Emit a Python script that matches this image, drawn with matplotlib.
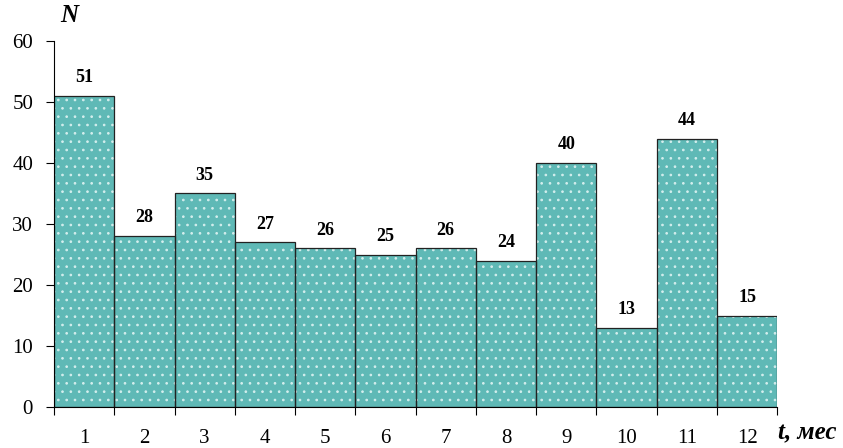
import matplotlib
matplotlib.use('Agg')
import numpy as np
from matplotlib import pyplot as plt

months = [1, 2, 3, 4, 5, 6, 7, 8, 9, 10, 11, 12]
counts = [51, 28, 35, 27, 26, 25, 26, 24, 40, 13, 44, 15]

plt.rcParams['font.family'] = ['Liberation Serif', 'DejaVu Serif']
plt.rcParams['hatch.linewidth'] = 0.7

fig = plt.figure(figsize=(8.43, 4.48), dpi=100)
ax = fig.add_axes([0.064, 0.0915, 0.858, 0.817])

x = np.arange(len(months))
color = '#5fb9b6'
ax.bar(x, counts, width=1.0, color=color, edgecolor='none')
ax.bar(x, counts, width=1.0, color='none', edgecolor='#d4eeed', hatch='..', linewidth=0)
ax.bar(x, counts, width=1.0, color='none', edgecolor='#222222', linewidth=0.9)

for xi, c in zip(x, counts):
    ax.text(xi, c + 1.6, str(c), ha='center', va='bottom', fontsize=13, fontweight='bold')

ax.set_xlim(-0.5, len(months) - 0.5)
ax.set_ylim(0, 60)
ax.set_yticks(range(0, 61, 10))
ax.set_xticks(np.arange(len(months) + 1) - 0.5)
ax.set_xticklabels([])
ax.set_xticks(x, minor=True)
ax.set_xticklabels([str(m) for m in months], minor=True)
ax.tick_params(axis='x', which='minor', length=0, pad=16, labelsize=15)
ax.tick_params(axis='x', which='major', length=6, direction='out')
ax.tick_params(axis='y', length=6, direction='out', labelsize=15, pad=9)

for s in ['top', 'right']:
    ax.spines[s].set_visible(False)

ax.text(-0.25, 62.3, 'N', fontsize=18, fontweight='bold', style='italic', ha='center', va='bottom')
ax.text(12.0, -4.2, 't, мес', fontsize=18, fontweight='bold', style='italic', ha='center', va='center', clip_on=False)

plt.savefig('out.png', dpi=100)
